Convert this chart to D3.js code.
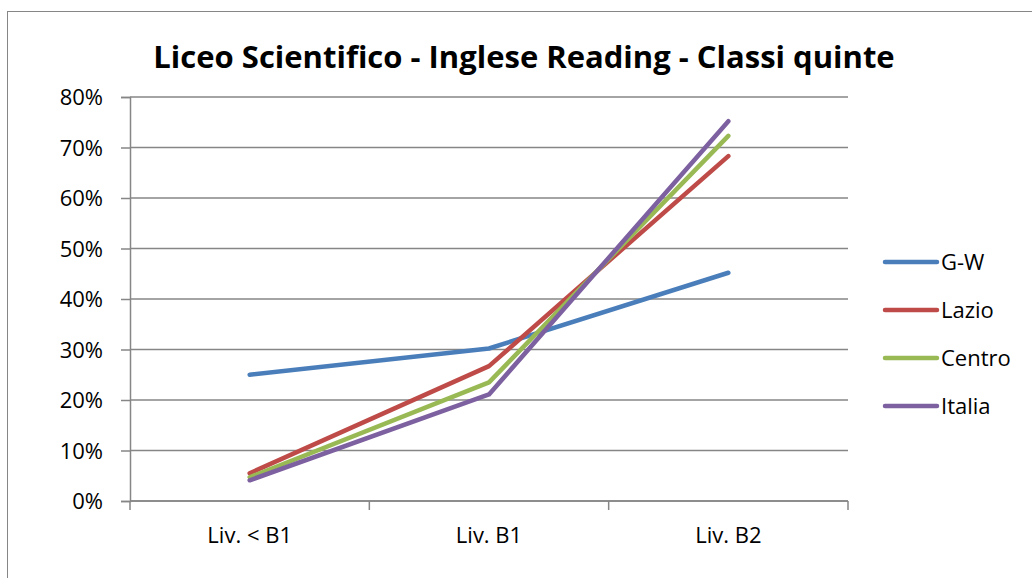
<!DOCTYPE html>
<html>
<head>
<meta charset="utf-8">
<script src="https://cdnjs.cloudflare.com/ajax/libs/d3/7.8.5/d3.min.js"></script>
<style>
  body { margin: 0; background: #fff; }
  svg text { font-family: "Open Sans", "Liberation Sans", sans-serif; fill: #000; }
</style>
</head>
<body>
<svg id="chart" width="1032" height="578"></svg>
<script>
'use strict';

let categories = ["Liv. < B1", "Liv. B1", "Liv. B2"],
    seriesNames = ["G-W", "Lazio", "Centro", "Italia"],
    seriesColors = ["#4a7ebb", "#be4b48", "#98b954", "#7d60a0"],
    gwValues = [25.0, 30.2, 45.2],
    lazioValues = [5.5, 26.7, 68.3],
    centroValues = [4.7, 23.5, 72.3],
    italiaValues = [4.1, 21.1, 75.2],
    yTicks = [0, 10, 20, 30, 40, 50, 60, 70, 80];

let allValues = [gwValues, lazioValues, centroValues, italiaValues];

let svg = d3.select("#chart");
let plotLeft = 130, plotRight = 848, plotTop = 97, plotBottom = 501;

// chart border
svg.append("rect")
    .attr("x", 7.5).attr("y", 11.5)
    .attr("width", 1040).attr("height", 600)
    .attr("fill", "none").attr("stroke", "#868686").attr("stroke-width", 1);

svg.append("text")
    .attr("x", 524).attr("y", 68)
    .attr("text-anchor", "middle")
    .style("font-size", "31px").style("font-weight", "bold")
    .text("Liceo Scientifico - Inglese Reading - Classi quinte");

let x = d3.scaleBand().domain(categories).range([plotLeft, plotRight]);
let y = d3.scaleLinear().domain([0, 80]).range([plotBottom, plotTop]);

// gridlines
svg.append("g").selectAll("line")
    .data(yTicks)
    .enter().append("line")
    .attr("x1", plotLeft).attr("x2", plotRight)
    .attr("y1", function(d) { return y(d); })
    .attr("y2", function(d) { return y(d); })
    .attr("stroke", "#868686").attr("stroke-width", 1.5);

// y axis
let yAxis = svg.append("g")
    .attr("transform", "translate(" + plotLeft + ",0)")
    .call(d3.axisLeft(y).tickValues(yTicks).tickSize(9).tickPadding(18)
        .tickFormat(function(d) { return d + "%"; }));
yAxis.attr("font-family", null).attr("font-size", null);
yAxis.select(".domain").attr("stroke", "#868686").attr("stroke-width", 1.5);
yAxis.selectAll(".tick line").attr("stroke", "#868686").attr("stroke-width", 1.5);
yAxis.selectAll("text").style("font-size", "22px").attr("fill", "#000").attr("dy", "0.36em");

// x axis with ticks on band boundaries
let xAxis = svg.append("g")
    .attr("transform", "translate(0," + plotBottom + ")");
xAxis.append("line")
    .attr("x1", plotLeft).attr("x2", plotRight)
    .attr("stroke", "#868686").attr("stroke-width", 1.5);
let bounds = categories.map(function(c) { return x(c); }).concat([x.range()[1]]);
xAxis.selectAll(".btick")
    .data(bounds)
    .enter().append("line")
    .attr("x1", function(d) { return d; }).attr("x2", function(d) { return d; })
    .attr("y1", 0).attr("y2", 9)
    .attr("stroke", "#868686").attr("stroke-width", 1.5);
xAxis.selectAll(".clabel")
    .data(categories)
    .enter().append("text")
    .attr("x", function(d) { return x(d) + x.bandwidth() / 2; })
    .attr("y", 42)
    .attr("text-anchor", "middle")
    .style("font-size", "22px")
    .text(function(d) { return d; });

// lines
let line = d3.line()
    .x(function(d, i) { return x(categories[i]) + x.bandwidth() / 2; })
    .y(function(d) { return y(d); });

allValues.forEach(function(vals, i) {
    svg.append("path")
        .datum(vals)
        .attr("d", line)
        .attr("fill", "none")
        .attr("stroke", seriesColors[i])
        .attr("stroke-width", 4.5)
        .attr("stroke-linecap", "round")
        .attr("stroke-linejoin", "round");
});

// legend
let legend = svg.append("g").attr("transform", "translate(885,262)");
seriesNames.forEach(function(name, i) {
    let g = legend.append("g").attr("transform", "translate(0," + (i * 48) + ")");
    g.append("line")
        .attr("x1", 0).attr("x2", 52)
        .attr("stroke", seriesColors[i]).attr("stroke-width", 4.5)
        .attr("stroke-linecap", "round");
    g.append("text")
        .attr("x", 56).attr("y", 8)
        .style("font-size", "22px")
        .text(name);
});
</script>
</body>
</html>
